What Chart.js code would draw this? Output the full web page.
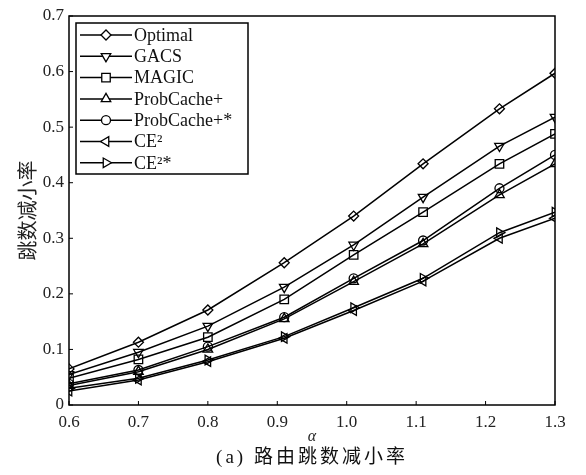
<!DOCTYPE html>
<html>
<head>
    <title>路由跳数减小率</title>
    <script src="https://cdn.jsdelivr.net/npm/chart.js"></script>
    <style>
        body { margin: 0; background: #fff; }
    </style>
</head>
<body>
    <canvas id="mainChart" width="586" height="475"></canvas>
    <script>
        // значения alpha, где стоят маркеры
        const alphaValues = [0.6, 0.7, 0.8, 0.91, 1.01, 1.11, 1.22, 1.3];

        const optimal       = [0.065, 0.113, 0.171, 0.256, 0.340, 0.434, 0.533, 0.597];
        const gacs          = [0.055, 0.095, 0.142, 0.212, 0.288, 0.374, 0.466, 0.518];
        const magic         = [0.048, 0.082, 0.122, 0.190, 0.270, 0.347, 0.434, 0.488];
        const probCache     = [0.035, 0.060, 0.100, 0.155, 0.222, 0.290, 0.378, 0.434];
        const probCacheStar = [0.038, 0.063, 0.105, 0.158, 0.228, 0.296, 0.390, 0.450];
        const ce2           = [0.025, 0.045, 0.078, 0.120, 0.170, 0.223, 0.300, 0.336];
        const ce2Star       = [0.030, 0.048, 0.081, 0.123, 0.175, 0.228, 0.310, 0.347];

        const seriesLabels = ['Optimal', 'GACS', 'MAGIC', 'ProbCache+', 'ProbCache+*', 'CE²', 'CE²*'];
        const xTicks = [0.6, 0.7, 0.8, 0.9, 1.0, 1.1, 1.2, 1.3];
        const yTicks = [0, 0.1, 0.2, 0.3, 0.4, 0.5, 0.6, 0.7];
        const xTitle = 'α';
        const yTitle = '跳数减小率';
        const caption = '(a) 路由跳数减小率';

        const allSeries = [optimal, gacs, magic, probCache, probCacheStar, ce2, ce2Star];
        const markers = [
            { style: 'rectRot', rotation: 0, radius: 5 },
            { style: 'triangle', rotation: 180, radius: 5.5 },
            { style: 'rect', rotation: 0, radius: 6 },
            { style: 'triangle', rotation: 0, radius: 5.5 },
            { style: 'circle', rotation: 0, radius: 4.5 },
            { style: 'triangle', rotation: 270, radius: 5.5 },
            { style: 'triangle', rotation: 90, radius: 5.5 }
        ];

        const datasets = allSeries.map((vals, i) => ({
            label: seriesLabels[i],
            data: vals.map((v, j) => ({ x: alphaValues[j], y: v })),
            borderColor: '#000',
            borderWidth: 1.5,
            backgroundColor: 'rgba(255,255,255,0)',
            pointStyle: markers[i].style,
            rotation: markers[i].rotation,
            pointRadius: markers[i].radius,
            pointBorderColor: '#000',
            pointBorderWidth: 1.3,
            tension: 0,
            fill: false
        }));

        const serif = '"Liberation Serif", "Noto Sans CJK SC", serif';

        // рамка, внутренние засечки, легенда и подпись
        const framePlugin = {
            id: 'frame',
            afterDraw(chart) {
                const { ctx, chartArea: a, scales } = chart;
                ctx.save();
                ctx.strokeStyle = '#000';
                ctx.lineWidth = 1.5;
                ctx.strokeRect(a.left, a.top, a.right - a.left, a.bottom - a.top);

                ctx.lineWidth = 1;
                ctx.beginPath();
                yTicks.forEach(v => {
                    const y = scales.y.getPixelForValue(v);
                    ctx.moveTo(a.left, y); ctx.lineTo(a.left + 4, y);
                });
                xTicks.forEach(v => {
                    const x = scales.x.getPixelForValue(v);
                    ctx.moveTo(x, a.bottom); ctx.lineTo(x, a.bottom - 4);
                });
                ctx.stroke();

                // легенда
                const bx = a.left + 7, by = a.top + 7, bw = 172, bh = 151;
                ctx.fillStyle = '#fff';
                ctx.fillRect(bx, by, bw, bh);
                ctx.lineWidth = 1.5;
                ctx.strokeRect(bx, by, bw, bh);
                ctx.font = '18px ' + serif;
                ctx.textBaseline = 'middle';
                ctx.textAlign = 'left';
                chart.data.datasets.forEach((ds, i) => {
                    const y = by + 12 + i * 21.3;
                    ctx.strokeStyle = '#000';
                    ctx.lineWidth = 1.5;
                    ctx.beginPath();
                    ctx.moveTo(bx + 4, y); ctx.lineTo(bx + 56, y);
                    ctx.stroke();
                    ctx.fillStyle = '#fff';
                    ctx.lineWidth = 1.3;
                    Chart.helpers.drawPoint(ctx, {
                        pointStyle: ds.pointStyle,
                        rotation: ds.rotation,
                        radius: ds.pointRadius,
                        borderWidth: 1.3
                    }, bx + 30, y);
                    ctx.fillStyle = '#111';
                    ctx.fillText(ds.label, bx + 58, y + 1);
                });

                // подпись снизу
                ctx.fillStyle = '#111';
                ctx.font = '19px ' + serif;
                ctx.textAlign = 'center';
                ctx.letterSpacing = '3px';
                ctx.fillText(caption, (a.left + a.right) / 2, chart.height - 17);
                ctx.restore();
            }
        };

        new Chart(document.getElementById('mainChart'), {
            type: 'line',
            data: { datasets: datasets },
            options: {
                responsive: false,
                maintainAspectRatio: false,
                animation: false,
                layout: { padding: { top: 16, right: 31, left: 0, bottom: 0 } },
                plugins: {
                    legend: { display: false },
                    tooltip: { enabled: false }
                },
                scales: {
                    x: {
                        type: 'linear',
                        min: 0.6,
                        max: 1.3,
                        afterBuildTicks: s => { s.ticks = xTicks.map(v => ({ value: v })); },
                        afterFit: s => { s.height = 70; },
                        grid: { display: false, drawTicks: false },
                        border: { display: false },
                        ticks: {
                            autoSkip: false,
                            maxRotation: 0,
                            padding: 7,
                            color: '#222',
                            font: { family: serif, size: 17 },
                            callback: v => Number(v).toFixed(1)
                        },
                        title: {
                            display: true,
                            text: xTitle,
                            color: '#222',
                            font: { family: serif, size: 16, style: 'italic' },
                            padding: { top: 0, bottom: 29 }
                        }
                    },
                    y: {
                        min: 0,
                        max: 0.7,
                        afterBuildTicks: s => { s.ticks = yTicks.map(v => ({ value: v })); },
                        afterFit: s => { s.width = 69; },
                        grid: { display: false, drawTicks: false },
                        border: { display: false },
                        ticks: {
                            autoSkip: false,
                            padding: 5,
                            color: '#222',
                            font: { family: serif, size: 17 },
                            callback: v => v === 0 ? '0' : Number(v).toFixed(1)
                        },
                        title: {
                            display: true,
                            text: yTitle,
                            color: '#222',
                            font: { family: serif, size: 20 },
                            padding: { top: 18, bottom: 0 }
                        }
                    }
                }
            },
            plugins: [framePlugin]
        });
    </script>
</body>
</html>
